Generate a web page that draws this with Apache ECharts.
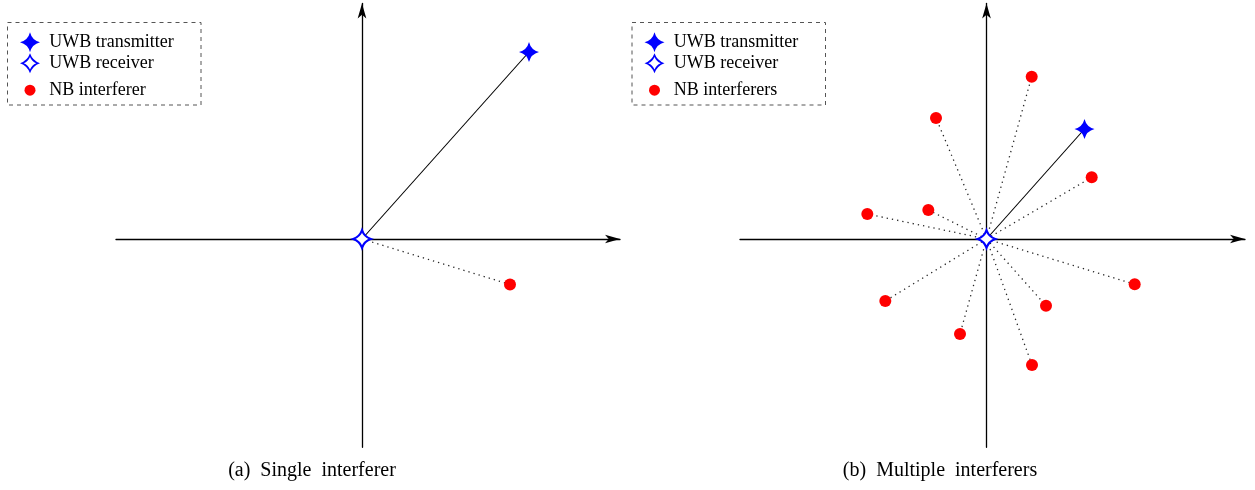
<!DOCTYPE html>
<html>
<head>
<meta charset="utf-8">
<script src="https://cdn.jsdelivr.net/npm/echarts@6/dist/echarts.min.js"></script>
<style>
html,body{margin:0;padding:0;background:#fff;}
#chart{width:1255px;height:490px;}
</style>
</head>
<body>
<div id="chart"></div>
<script>
// ---- data (units: relative coordinates, receiver at origin) ----
const txA = [16.7, 18.7];
const rxA = [0, 0];
const nbA = [[14.8, -4.55]];

const txB = [9.8, 11.0];
const rxB = [0, 0];
const nbB = [
  [4.52, 16.23], [-5.05, 12.1], [10.52, 6.17], [-11.92, 2.5], [-5.82, 2.9],
  [14.82, -4.53], [-10.12, -6.2], [5.95, -6.67], [-2.65, -9.5], [4.55, -12.6]
];

const legendA = ['UWB transmitter', 'UWB receiver', 'NB interferer'];
const legendB = ['UWB transmitter', 'UWB receiver', 'NB interferers'];
const captions = ['(a)  Single  interferer', '(b)  Multiple  interferers'];

// ---- styles ----
const FONT = 'Liberation Serif';
const STAR = 'path://M0,-10 Q2,-2 10,0 Q2,2 0,10 Q-2,2 -10,0 Q-2,-2 0,-10 Z';
const RXSTAR = 'path://M0,-10 Q2.6,-2.6 10,0 Q2.6,2.6 0,10 Q-2.6,2.6 -10,0 Q-2.6,-2.6 0,-10 Z';
const RING = 'path://M0,-10 Q2.6,-2.6 10,0 Q2.6,2.6 0,10 Q-2.6,2.6 -10,0 Q-2.6,-2.6 0,-10 Z ' +
             'M0,-6.2 Q-1.8,-1.8 -6.2,0 Q-1.8,1.8 0,6.2 Q1.8,1.8 6.2,0 Q1.8,-1.8 0,-6.2 Z';
const BLUE = '#0000ff', RED = '#ff0000';

const chart = echarts.init(document.getElementById('chart'), null, {renderer: 'canvas'});

function axes(gridIndex, xmin, xmax, ymin, ymax) {
  const common = {
    type: 'value', gridIndex: gridIndex,
    axisLine: {show: true, onZero: true, symbol: ['none', 'arrow'], symbolSize: [6.5, 15],
      lineStyle: {color: '#000', width: 1.3}},
    axisTick: {show: false}, axisLabel: {show: false}, splitLine: {show: false}
  };
  return {
    x: Object.assign({}, common, {min: xmin, max: xmax}),
    y: Object.assign({}, common, {min: ymin, max: ymax})
  };
}
const aA = axes(0, -24.6, 25.8, -20.83, 23.55);
const aB = axes(1, -24.65, 25.85, -20.83, 23.55);

function panelSeries(i, tx, rx, nb, names) {
  return [
    {type: 'lines', coordinateSystem: 'cartesian2d', xAxisIndex: i, yAxisIndex: i, z: 1,
      silent: true, data: [{coords: [rx, tx]}],
      lineStyle: {color: '#000', width: 1.1, type: 'solid', opacity: 1}},
    {type: 'lines', coordinateSystem: 'cartesian2d', xAxisIndex: i, yAxisIndex: i, z: 1,
      silent: true, data: nb.map(p => ({coords: [rx, p]})),
      lineStyle: {color: '#000', width: 1.3, type: [1.3, 4], opacity: 0.85}},
    {name: names[2], type: 'scatter', xAxisIndex: i, yAxisIndex: i, z: 3,
      symbol: 'circle', symbolSize: 12, data: nb, itemStyle: {color: RED, opacity: 1}},
    {name: names[0], type: 'scatter', xAxisIndex: i, yAxisIndex: i, z: 4,
      symbol: STAR, symbolSize: 20, data: [tx], itemStyle: {color: BLUE, opacity: 1}},
    {name: names[1], type: 'scatter', xAxisIndex: i, yAxisIndex: i, z: 4,
      symbol: RXSTAR, symbolSize: 17.5, data: [rx],
      itemStyle: {color: '#fff', borderColor: BLUE, borderWidth: 2.2, opacity: 1}}
  ];
}

function legendRows(names, dx) {
  const txt = (pl) => ({fontFamily: FONT, fontSize: 18, color: '#000', padding: [0, 0, 0, pl]});
  return [
    {left: 20 + dx, top: 32.3, padding: 0, itemWidth: 20, itemHeight: 20,
      data: [{name: names[0], icon: STAR, itemStyle: {color: BLUE, borderWidth: 0, opacity: 1}}], textStyle: txt(4.3)},
    {left: 20 + dx, top: 53.3, padding: 0, itemWidth: 20, itemHeight: 20,
      data: [{name: names[1], icon: RING, itemStyle: {color: BLUE, borderWidth: 0, opacity: 1}}], textStyle: txt(4.3)},
    {left: 24.5 + dx, top: 81.2, padding: 0, itemWidth: 11, itemHeight: 11,
      data: [{name: names[2], icon: 'circle', itemStyle: {color: RED, borderWidth: 0, opacity: 1}}], textStyle: txt(8.8)}
  ];
}

const option = {
  animation: false,
  backgroundColor: '#fff',
  grid: [
    {left: 116, top: 3.5, width: 504, height: 443.8, outerBoundsMode: 'none', containLabel: false},
    {left: 740, top: 3.5, width: 505, height: 443.8, outerBoundsMode: 'none', containLabel: false}
  ],
  xAxis: [aA.x, aB.x],
  yAxis: [aA.y, aB.y],
  legend: legendRows(legendA, 0).concat(legendRows(legendB, 624.5)),
  series: panelSeries(0, txA, rxA, nbA, legendA).concat(panelSeries(1, txB, rxB, nbB, legendB)),
  graphic: [
    {type: 'rect', shape: {x: 7.5, y: 22.5, width: 193.5, height: 82.5}, z: -1,
      style: {fill: 'none', stroke: '#555', lineWidth: 1, lineDash: [4, 4]}},
    {type: 'rect', shape: {x: 632, y: 22.5, width: 193.5, height: 82.5}, z: -1,
      style: {fill: 'none', stroke: '#555', lineWidth: 1, lineDash: [4, 4]}},
    {type: 'text', x: 312, y: 471, style: {text: captions[0], fontFamily: FONT, fontSize: 20,
      fill: '#000', textAlign: 'center', textVerticalAlign: 'middle'}},
    {type: 'text', x: 940, y: 471, style: {text: captions[1], fontFamily: FONT, fontSize: 20,
      fill: '#000', textAlign: 'center', textVerticalAlign: 'middle'}}
  ]
};
chart.setOption(option);
</script>
</body>
</html>
